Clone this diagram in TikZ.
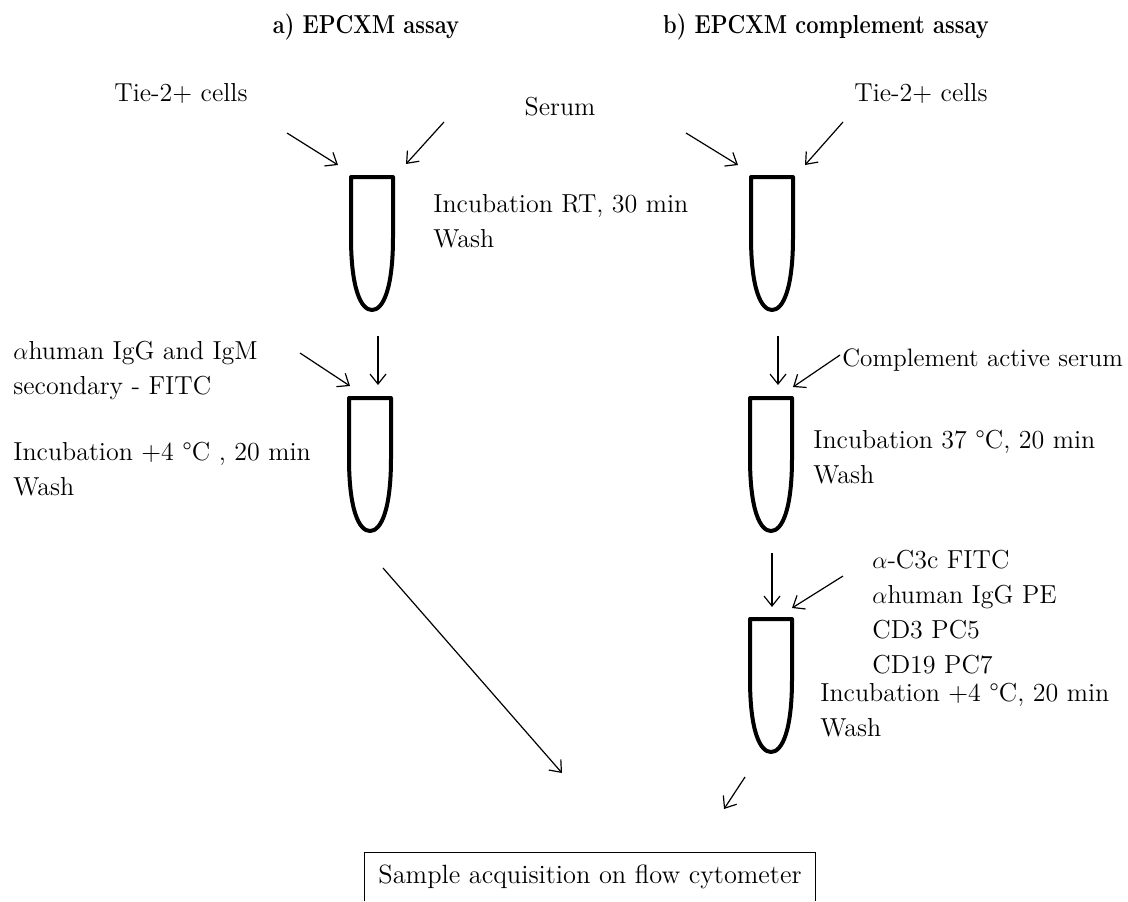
\documentclass[tikz,border=0pt]{standalone}
\usepackage{tikz}
\usetikzlibrary{arrows.meta}
\usetikzlibrary{calc}

\tikzset{
  tube/.pic={\draw [line width=2pt, line join=round] (-21,60) -- (-21,0) -- (21,0) -- (21,60)
      .. controls (21,112) and (11,133) .. (0,133) .. controls (-11,133) and (-21,112) .. (-21,60);},
  txt/.style={anchor=west, align=left, inner sep=0pt, font=\fontsize{13}{17.5}\selectfont},
  lbl/.style={inner sep=0pt, font=\fontsize{13}{17.5}\selectfont},
  hdr/.style={inner sep=0pt, font=\bfseries\fontsize{13}{15}\selectfont, transform shape, xscale=0.84},
  arr/.style={-{Straight Barb[length=5pt,width=8pt]}, line width=0.6pt}
}

\begin{document}
\begin{tikzpicture}[x=0.5pt,y=-0.5pt]
    \useasboundingbox (0,0) rectangle (1128,901);
    % headings
    \node [hdr] (ha) at (366,27) {a) EPCXM assay};
    \node [hdr] (hb) at (826,27) {b) EPCXM complement assay};
    % inputs
    \node [lbl] (ca) at (181,93) {Tie-2+ cells};
    \node [lbl] (se) at (560,107) {Serum};
    \node [lbl] (cb) at (921,93) {Tie-2+ cells};
    % tubes
    \coordinate (a1) at (372,177);
    \coordinate (a2) at (370,398);
    \coordinate (b1) at (772,177);
    \coordinate (b2) at (771,398);
    \coordinate (b3) at (771,619);
    \pic at (a1) {tube};
    \pic at (a2) {tube};
    \pic at (b1) {tube};
    \pic at (b2) {tube};
    \pic at (b3) {tube};
    % steps
    \node [txt] (ia) at (433,221) {Incubation RT, 30 min\\Wash};
    \node [txt] (sa) at (13,370) {$\alpha$human IgG and IgM\\secondary - FITC};
    \node [txt] (ja) at (13,469) {Incubation +4 \textdegree C , 20 min\\Wash};
    \node [txt, font=\fontsize{12.6}{17.5}\selectfont] (cs) at (842,360) {Complement active serum};
    \node [txt] (jb) at (813,457) {Incubation 37 \textdegree C, 20 min\\Wash};
    \node [txt] (ab) at (872,612) {$\alpha$-C3c FITC\\$\alpha$human IgG PE\\CD3 PC5\\CD19 PC7};
    \node [txt] (kb) at (820,710) {Incubation +4 \textdegree C, 20 min\\Wash};
    % read-out
    \node [lbl, font=\fontsize{13.2}{15}\selectfont, minimum width=225pt, minimum height=24pt] (acq) at (590,877) {Sample acquisition on flow cytometer};
    \draw [line width=0.6pt] (acq.south west) -- (acq.north west) -- (acq.north east) -- (acq.south east);
    % arrow ends
    \coordinate (p1) at (287,133);
    \coordinate (p2) at (338,165);
    \coordinate (p3) at (444,122);
    \coordinate (p4) at (406,164);
    \coordinate (p5) at (686,133);
    \coordinate (p6) at (738,165);
    \coordinate (p7) at (843,122);
    \coordinate (p8) at (805,165);
    \coordinate (q1) at (378,336);
    \coordinate (q2) at (378,385);
    \coordinate (q3) at (300,353);
    \coordinate (q4) at (350,386);
    \coordinate (q5) at (778,336);
    \coordinate (q6) at (778,385);
    \coordinate (q7) at (840,355);
    \coordinate (q8) at (793,387);
    \coordinate (r1) at (772,553);
    \coordinate (r2) at (772,607);
    \coordinate (r3) at (843,576);
    \coordinate (r4) at (792,608);
    \coordinate (s1) at (383,568);
    \coordinate (s2) at (562,773);
    \coordinate (s3) at (745,777);
    \coordinate (s4) at (724,809);
    \draw [arr] (p1) -- (p2);
    \draw [arr] (p3) -- (p4);
    \draw [arr] (p5) -- (p6);
    \draw [arr] (p7) -- (p8);
    \draw [arr] (q1) -- (q2);
    \draw [arr] (q3) -- (q4);
    \draw [arr] (q5) -- (q6);
    \draw [arr] (q7) -- (q8);
    \draw [arr] (r1) -- (r2);
    \draw [arr] (r3) -- (r4);
    \draw [arr] (s1) -- (s2);
    \draw [arr] (s3) -- (s4);
\end{tikzpicture}
\end{document}
